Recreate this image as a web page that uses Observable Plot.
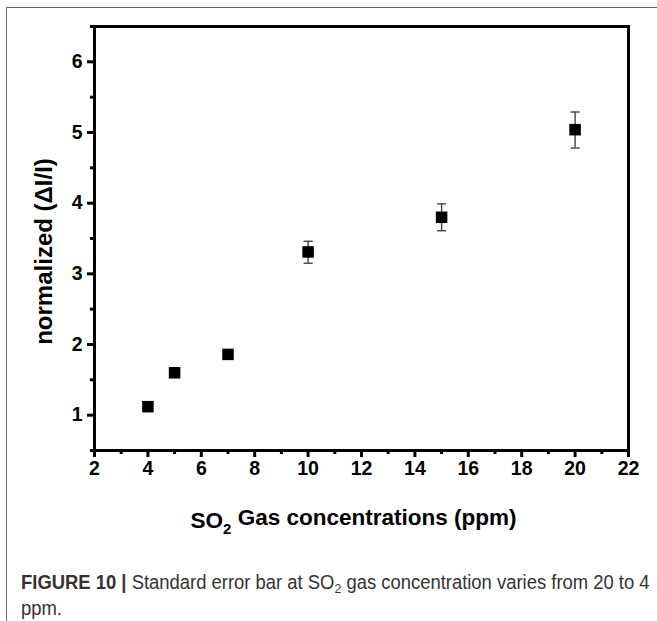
<!DOCTYPE html>
<html><head><meta charset="utf-8">
<script src="https://cdn.jsdelivr.net/npm/d3@7"></script>
<script src="https://cdn.jsdelivr.net/npm/@observablehq/plot@0.6"></script>
<style>
html,body{margin:0;padding:0;background:#fff;overflow:hidden;width:657px;height:621px}
#box{position:absolute;left:6px;top:7px;width:700px;height:700px;border:1px solid #666;box-sizing:border-box}
#chart{position:absolute;left:0;top:0}
.capline{position:absolute;left:21px;white-space:nowrap;font-family:"Liberation Sans",Arial,sans-serif;font-size:19.5px;line-height:25.5px;color:#333;transform:scaleX(0.945);transform-origin:0 0}
.capline .sub{font-size:13px;position:relative;top:4px}
</style></head><body>
<div id="box"></div><div id="chart"></div>
<div class="capline" style="top:570px"><b>FIGURE 10 |</b> Standard error bar at SO<span class="sub">2</span> gas concentration varies from 20 to 4</div>
<div class="capline" style="top:595.5px">ppm.</div>
<script>
const conc = [4, 5, 7, 10, 15, 20];
const resp = [1.12, 1.60, 1.86, 3.31, 3.80, 5.04];
const errLow = [1.10, 1.56, 1.81, 3.15, 3.61, 4.78];
const errHigh = [1.14, 1.64, 1.91, 3.46, 3.99, 5.29];
const xTicks = [2, 4, 6, 8, 10, 12, 14, 16, 18, 20, 22];
const xMinor = [3, 5, 7, 9, 11, 13, 15, 17, 19, 21];
const yTicks = [1, 2, 3, 4, 5, 6];
const yMinor = [0.5, 1.5, 2.5, 3.5, 4.5, 5.5, 6.5];
const yTitle = "normalized (\u0394I/I)";
const xTitle = ["SO", "2", " Gas concentrations (ppm)"];

const data = conc.map((c, i) => ({c, v: resp[i], lo: errLow[i], hi: errHigh[i]}));
const cap = {draw(ctx) { ctx.moveTo(-4.5, 0); ctx.lineTo(4.5, 0); }};

const chart = Plot.plot({
  width: 657, height: 545,
  marginLeft: 94, marginRight: 29, marginTop: 26, marginBottom: 95,
  x: {domain: [2, 22]},
  y: {domain: [0.5, 6.5]},
  style: {fontFamily: "'Liberation Sans', Arial, sans-serif", fontSize: "19.5px", fontWeight: "bold", color: "#000", background: "transparent"},
  marks: [
    Plot.axisX({ticks: xTicks, tickSize: 7, tickPadding: 4, strokeWidth: 3, label: null, tickFormat: "d", fontSize: 19.5, fontWeight: "bold"}),
    Plot.axisX({ticks: xMinor, tickSize: 4, text: null, strokeWidth: 3, label: null}),
    Plot.axisY({ticks: yTicks, tickSize: 7, tickPadding: 5, strokeWidth: 3, label: null, tickFormat: "d", fontSize: 19.5, fontWeight: "bold"}),
    Plot.axisY({ticks: yMinor, tickSize: 4, text: null, strokeWidth: 3, label: null}),
    Plot.frame({strokeWidth: 3, stroke: "#000"}),
    Plot.ruleX(data, {x: "c", y1: "lo", y2: "hi", stroke: "#444", strokeWidth: 1.4}),
    Plot.dot(data, {x: "c", y: "lo", symbol: cap, stroke: "#444", strokeWidth: 1.4, r: 3}),
    Plot.dot(data, {x: "c", y: "hi", symbol: cap, stroke: "#444", strokeWidth: 1.4, r: 3}),
    Plot.dot(data, {x: "c", y: "v", symbol: "square", r: 6.5, fill: "#000", stroke: "none"}),
    Plot.text([yTitle], {frameAnchor: "left", textAnchor: "middle", lineAnchor: "bottom", rotate: -90, dx: -43, dy: 13, text: d => d, fontSize: 24, fontWeight: "bold"}),
    Plot.text([xTitle.join("")], {frameAnchor: "bottom", textAnchor: "middle", lineAnchor: "bottom", dx: -8, dy: 77, text: d => d, fontSize: 22.5, fontWeight: "bold", className: "xtitle"})
  ]
});
document.getElementById("chart").append(chart);
const t = d3.select(chart).select(".xtitle text");
t.text(null);
t.append("tspan").text(xTitle[0]);
t.append("tspan").attr("dy", "0.4em").attr("font-size", 15).text(xTitle[1]);
t.append("tspan").attr("dy", "-0.4em").text(xTitle[2]);
</script>
</body></html>
